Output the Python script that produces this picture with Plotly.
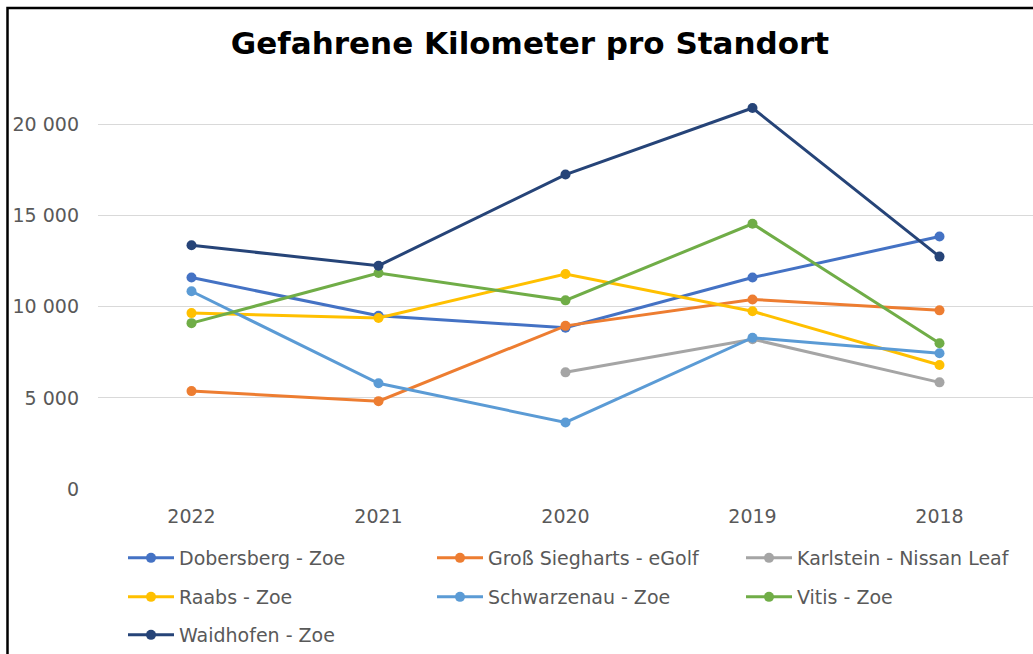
import plotly.graph_objects as go

years = ["2022", "2021", "2020", "2019", "2018"]

dobersberg = [11600, 9500, 8850, 11600, 13850]
gross_siegharts = [5370, 4820, 8950, 10400, 9800]
karlstein = [None, None, 6400, 8220, 5850]
raabs = [9650, 9380, 11800, 9750, 6800]
schwarzenau = [10850, 5800, 3650, 8300, 7450]
vitis = [9100, 11850, 10350, 14550, 8000]
waidhofen = [13370, 12250, 17250, 20900, 12750]

series = [
    ("Dobersberg - Zoe", dobersberg, "#4472C4", "legend"),
    ("Groß Siegharts - eGolf", gross_siegharts, "#ED7D31", "legend"),
    ("Karlstein - Nissan Leaf", karlstein, "#A5A5A5", "legend"),
    ("Raabs - Zoe", raabs, "#FFC000", "legend2"),
    ("Schwarzenau - Zoe", schwarzenau, "#5B9BD5", "legend2"),
    ("Vitis - Zoe", vitis, "#70AD47", "legend2"),
    ("Waidhofen - Zoe", waidhofen, "#264478", "legend3"),
]

W, H = 1033, 654
L, R, T, B = 98, 0, 88, 165

fig = go.Figure()
for name, vals, color, lg in series:
    fig.add_trace(go.Scatter(
        x=years, y=vals, name=name, mode="lines+markers",
        line=dict(color=color, width=3),
        marker=dict(color=color, size=10),
        legend=lg,
    ))

font = dict(family="DejaVu Sans", size=19, color="#595959")

def leg(ycenter):
    return dict(
        orientation="h", xref="container", yref="container",
        x=123 / W, xanchor="left", y=1 - ycenter / H, yanchor="middle",
        font=font, entrywidth=248, entrywidthmode="pixels",
        itemwidth=46, bgcolor="rgba(0,0,0,0)", traceorder="normal",
    )

fig.update_layout(
    width=W, height=H,
    margin=dict(l=L, r=R, t=T, b=B),
    paper_bgcolor="white", plot_bgcolor="white",
    separators=", ",
    title=dict(
        text="<b>Gefahrene Kilometer pro Standort</b>",
        font=dict(family="DejaVu Sans", size=31, color="#000000"),
        x=530 / W, xanchor="center", xref="container",
        y=1 - 43 / H, yanchor="middle", yref="container",
    ),
    xaxis=dict(
        type="category", range=[-0.5, 4.5],
        showgrid=False, showline=False, ticks="",
        tickfont=font, ticklabelstandoff=14,
    ),
    yaxis=dict(
        range=[0, 22000], dtick=5000, tick0=0, tickformat=",d",
        showgrid=True, gridcolor="#D9D9D9", gridwidth=1,
        zeroline=False, showline=False, ticks="",
        tickfont=font, ticklabelstandoff=18,
    ),
    legend=leg(558),
    legend2=leg(597),
    legend3=leg(635),
    showlegend=True,
    shapes=[dict(
        type="rect", xref="paper", yref="paper",
        x0=(7.5 - L) / (W - L - R), x1=1.1,
        y0=-0.6, y1=(H - B - 8) / (H - T - B),
        line=dict(color="#000000", width=2.5),
        fillcolor="rgba(0,0,0,0)", layer="above",
    )],
)

fig.write_html(
    "out.html",
    config={"displayModeBar": False},
    post_script="document.body.style.margin='0';document.body.style.overflow='hidden';",
)
